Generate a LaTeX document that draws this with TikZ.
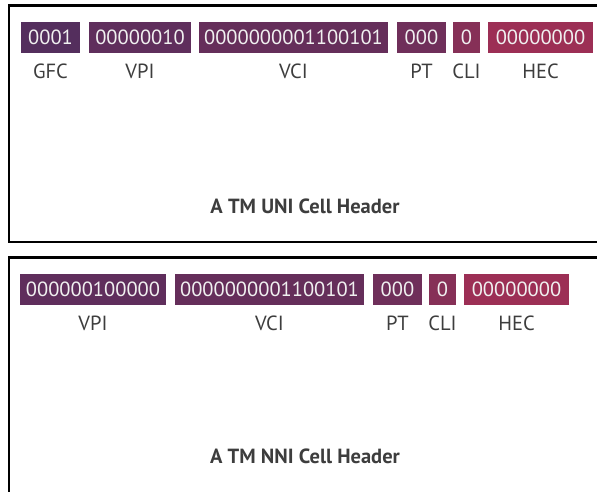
\documentclass[tikz,border=0pt]{standalone}
\usepackage{fontspec}
\setmainfont{PT Sans}
\definecolor{cA}{HTML}{542E5D}
\definecolor{cB}{HTML}{5F2E5C}
\definecolor{cC}{HTML}{652E5A}
\definecolor{cD}{HTML}{6F2F5A}
\definecolor{cE}{HTML}{863057}
\definecolor{cF}{HTML}{9C2F55}
\definecolor{lab}{HTML}{3D3D3D}
\begin{document}
\begin{tikzpicture}[x=1pt,y=-1pt,
  field/.style={fill=#1, text=white!94!black, inner sep=0pt, minimum height=31pt,
    font=\fontsize{20.5}{20.5}\selectfont},
  fieldlabel/.style={text=lab, inner sep=0pt, font=\fontsize{20.5}{20.5}\selectfont},
  heading/.style={text=lab, inner sep=0pt, font=\fontsize{20.5}{20.5}\selectfont\bfseries},
  frame/.style={draw=black, line width=2.6pt}]
\useasboundingbox (0,0) rectangle (597,491);
\fill[white] (0,0) rectangle (597,491);
% frames
\draw[frame] (9,5.5) rectangle (610,242);
\draw[frame] (9,257.5) rectangle (610,510);
% UNI row
\node[field=cA, minimum width=59pt]  (u1) at (50.5,37.5) {0001};
\node[field=cB, minimum width=102pt] (u2) at (140,37.5) {00000010};
\node[field=cC, minimum width=189pt] (u3) at (293.5,37.5) {0000000001100101};
\node[field=cD, minimum width=49pt]  (u4) at (421.5,37.5) {000};
\node[field=cE, minimum width=27pt]  (u5) at (466.5,37.5) {0};
\node[field=cF, minimum width=105pt] (u6) at (540.5,37.5) {00000000};
\node[fieldlabel] (ul1) at (50.5,71) {GFC};
\node[fieldlabel] (ul2) at (140,71) {VPI};
\node[fieldlabel] (ul3) at (293.5,71) {VCI};
\node[fieldlabel] (ul4) at (421.5,71) {PT};
\node[fieldlabel] (ul5) at (466.5,71) {CLI};
\node[fieldlabel] (ul6) at (540.5,71) {HEC};
\node[heading] (ut) at (305,206) {A TM UNI Cell Header};
% NNI row
\node[field=cB, minimum width=146pt] (n1) at (93,289) {000000100000};
\node[field=cC, minimum width=189pt] (n2) at (269.5,289) {0000000001100101};
\node[field=cD, minimum width=49pt]  (n3) at (397.5,289) {000};
\node[field=cE, minimum width=27pt]  (n4) at (442.5,289) {0};
\node[field=cF, minimum width=105pt] (n5) at (516.5,289) {00000000};
\node[fieldlabel] (nl1) at (93,323) {VPI};
\node[fieldlabel] (nl2) at (269.5,323) {VCI};
\node[fieldlabel] (nl3) at (397.5,323) {PT};
\node[fieldlabel] (nl4) at (442.5,323) {CLI};
\node[fieldlabel] (nl5) at (516.5,323) {HEC};
\node[heading] (nt) at (305,456) {A TM NNI Cell Header};
\end{tikzpicture}
\end{document}
